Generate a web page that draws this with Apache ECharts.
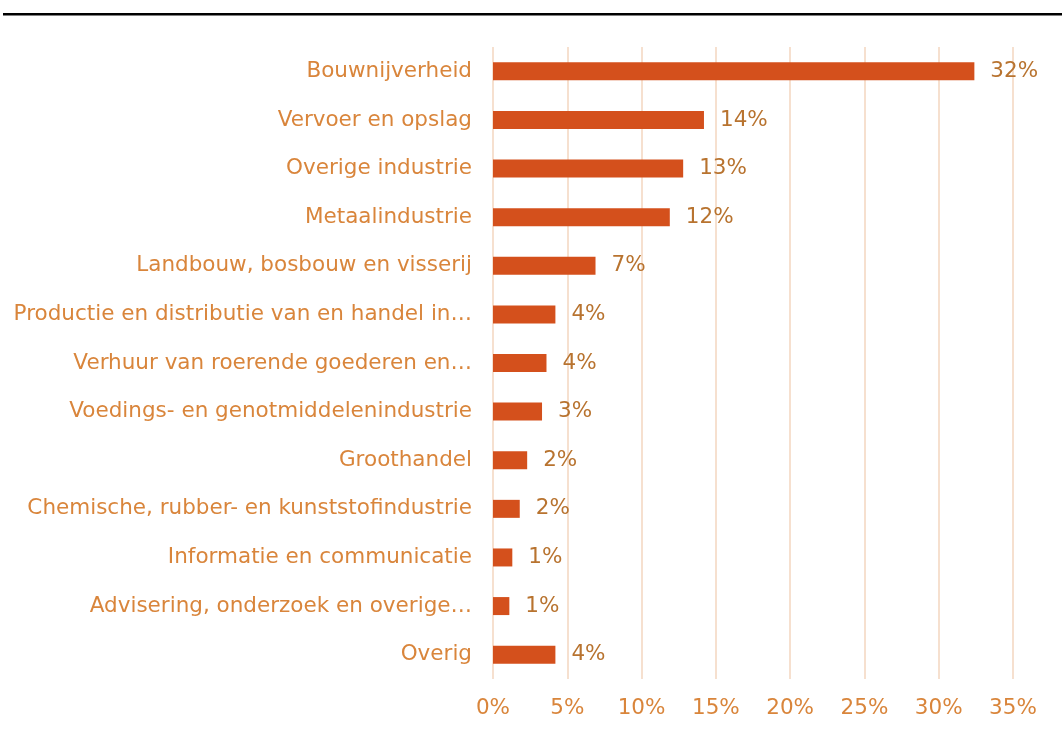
<!DOCTYPE html>
<html>
<head>
<meta charset="utf-8">
<script src="https://cdn.jsdelivr.net/npm/echarts@6/dist/echarts.min.js"></script>
<style>
html,body{margin:0;padding:0;background:#fff;}
#chart{width:1062px;height:731px;}
</style>
</head>
<body>
<div id="chart"></div>
<script>
var categories = [
	"Bouwnijverheid",
	"Vervoer en opslag",
	"Overige industrie",
	"Metaalindustrie",
	"Landbouw, bosbouw en visserij",
	"Productie en distributie van en handel in…",
	"Verhuur van roerende goederen en…",
	"Voedings- en genotmiddelenindustrie",
	"Groothandel",
	"Chemische, rubber- en kunststofindustrie",
	"Informatie en communicatie",
	"Advisering, onderzoek en overige…",
	"Overig"
];
var shares = [32.4, 14.2, 12.8, 11.9, 6.9, 4.2, 3.6, 3.3, 2.3, 1.8, 1.3, 1.1, 4.2];
var xTicks = [0, 5, 10, 15, 20, 25, 30, 35];

var FONT = "DejaVu Sans, Verdana, sans-serif";
var myChart = echarts.init(document.getElementById("chart"));

var option = {
	animation: false,
	textStyle: { fontFamily: FONT },
	graphic: [{
		type: "rect",
		shape: { x: 3, y: 13, width: 1059, height: 2.5 },
		style: { fill: "#000" }
	}],
	grid: {
		left: 493,
		right: 49,
		top: 47,
		bottom: 52
	},
	xAxis: {
		type: "value",
		min: xTicks[0],
		max: xTicks[xTicks.length - 1],
		interval: 5,
		axisLine: { show: false },
		axisTick: { show: false },
		splitLine: { lineStyle: { color: "#F6E0CF", width: 2 } },
		axisLabel: {
			color: "#D9853B",
			fontFamily: FONT,
			fontSize: 21.5,
			margin: 18,
			formatter: function (v) { return v + "%"; }
		}
	},
	yAxis: {
		type: "category",
		inverse: true,
		data: categories,
		axisLine: { show: false },
		axisTick: { show: false },
		axisLabel: {
			color: "#D9853B",
			fontFamily: FONT,
			fontSize: 21.5,
			margin: 21
		}
	},
	series: [{
		type: "bar",
		data: shares,
		barWidth: 18,
		itemStyle: { color: "#D4501C" },
		label: {
			show: true,
			position: "right",
			distance: 16,
			color: "#B8732F",
			fontFamily: FONT,
			fontSize: 21.5,
			formatter: function (p) { return Math.round(p.value) + "%"; }
		}
	}]
};

myChart.setOption(option);
</script>
</body>
</html>
